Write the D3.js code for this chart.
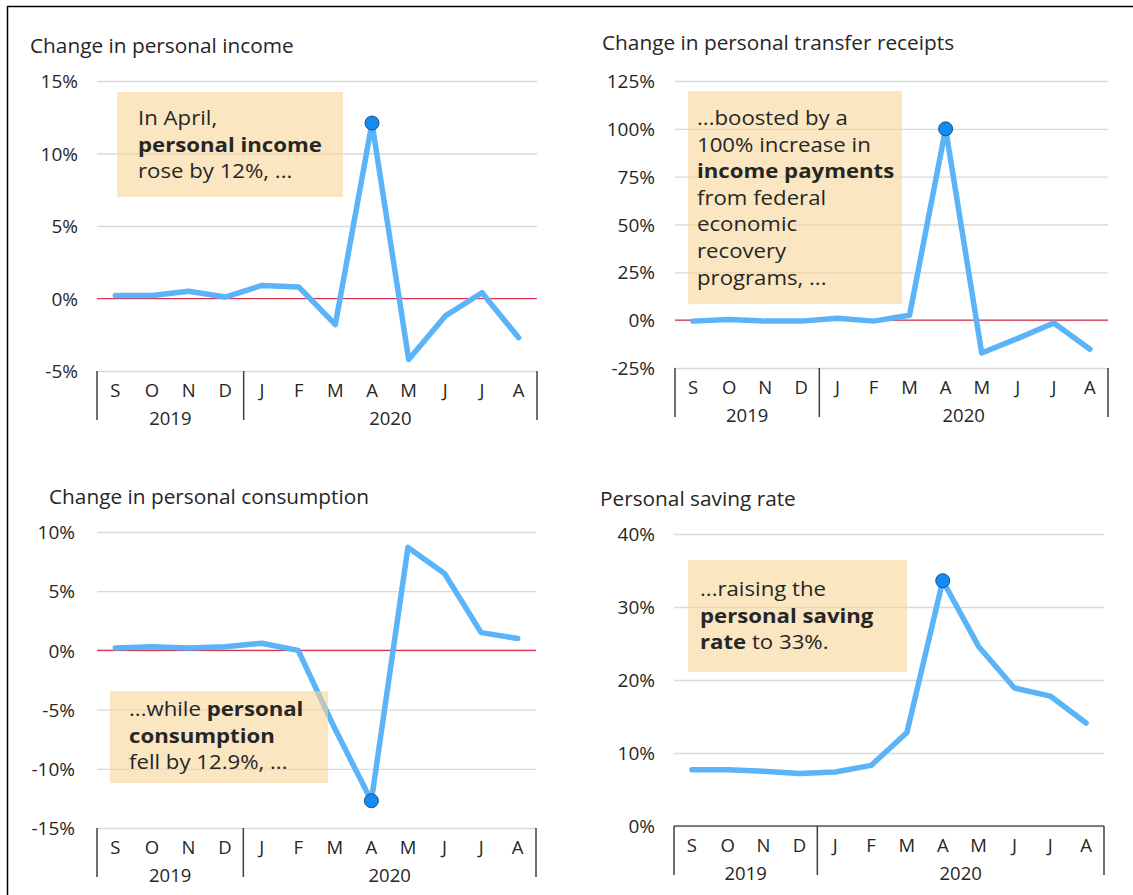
<!DOCTYPE html>
<html>
<head>
<meta charset="utf-8">
<script src="https://cdn.jsdelivr.net/npm/d3@7"></script>
<style>
  html, body { margin: 0; padding: 0; background: #ffffff; }
  svg { display: block; }
  text { font-family: "Open Sans", Lato, sans-serif; fill: #262626; }
</style>
</head>
<body>
<svg id="chart" width="1133" height="895"></svg>
<script>
// ---------- DATA ----------
const months = ["S","O","N","D","J","F","M","A","M","J","J","A"];
const yearLabels = ["2019","2020"];
const yearSpans = [4, 8];

const incomeChange      = [0.2, 0.2, 0.5, 0.1, 0.9, 0.8, -1.8, 12.1, -4.2, -1.2, 0.4, -2.7];
const transferChange    = [-0.5, 0.3, -0.5, -0.5, 1.0, -0.5, 2.6, 100, -17.2, -9.5, -1.5, -15.2];
const consumptionChange = [0.2, 0.3, 0.2, 0.3, 0.6, 0.0, -6.6, -12.7, 8.7, 6.5, 1.5, 1.0];
const savingRate        = [7.7, 7.7, 7.5, 7.2, 7.4, 8.3, 12.8, 33.6, 24.6, 18.9, 17.8, 14.1];

const incomeTicks      = [-5, 0, 5, 10, 15];
const transferTicks    = [-25, 0, 25, 50, 75, 100, 125];
const consumptionTicks = [-15, -10, -5, 0, 5, 10];
const savingTicks      = [0, 10, 20, 30, 40];

const titles = ["Change in personal income", "Change in personal transfer receipts",
                "Change in personal consumption", "Personal saving rate"];

// annotation text: each line is a list of [text, bold]
const notes = [
  [[["In April,", false]], [["personal income", true]], [["rose by 12%, ...", false]]],
  [[["...boosted by a", false]], [["100% increase in", false]], [["income payments", true]],
   [["from federal", false]], [["economic", false]], [["recovery", false]], [["programs, ...", false]]],
  [[["...while ", false], ["personal", true]], [["consumption", true]], [["fell by 12.9%, ...", false]]],
  [[["...raising the", false]], [["personal saving", true]], [["rate", true], [" to 33%.", false]]]
];
const highlightIndex = 7; // April 2020

// ---------- LAYOUT ----------
const panels = [
  { data: incomeChange, ticks: incomeTicks, title: titles[0], note: notes[0],
    x0: 97, x1: 537, yTop: 81, yBot: 371, labelX: 78, titleX: 30, titleY: 53,
    box: [117, 92, 226, 105], textX: 138, textY: 125, zeroLine: true, darkBase: false },
  { data: transferChange, ticks: transferTicks, title: titles[1], note: notes[1],
    x0: 675, x1: 1108, yTop: 81, yBot: 368, labelX: 655, titleX: 602, titleY: 50,
    box: [688, 91, 214, 213], textX: 697, textY: 125, zeroLine: true, darkBase: false },
  { data: consumptionChange, ticks: consumptionTicks, title: titles[2], note: notes[2],
    x0: 97, x1: 536, yTop: 532, yBot: 828, labelX: 75, titleX: 49, titleY: 504,
    box: [110, 691, 218, 92], textX: 129, textY: 716, zeroLine: true, darkBase: false },
  { data: savingRate, ticks: savingTicks, title: titles[3], note: notes[3],
    x0: 674, x1: 1104, yTop: 534, yBot: 826, labelX: 655, titleX: 600, titleY: 506,
    box: [688, 560, 219, 112], textX: 700, textY: 596, zeroLine: false, darkBase: true }
];

const svg = d3.select("#chart");

// outer frame (top and left edges visible)
svg.append("line").attr("x1", 7).attr("x2", 1133).attr("y1", 6.5).attr("y2", 6.5)
  .attr("stroke", "#000").attr("stroke-width", 1.5);
svg.append("line").attr("x1", 7.5).attr("x2", 7.5).attr("y1", 6).attr("y2", 895)
  .attr("stroke", "#000").attr("stroke-width", 1.5);

panels.forEach(p => {
  const g = svg.append("g");
  const x = d3.scaleBand().domain(d3.range(months.length)).range([p.x0, p.x1]).padding(0);
  const y = d3.scaleLinear().domain([d3.min(p.ticks), d3.max(p.ticks)]).range([p.yBot, p.yTop]);
  const cx = i => x(i) + x.bandwidth() / 2;

  // title
  g.append("text").attr("x", p.titleX).attr("y", p.titleY)
    .attr("font-size", 20.8).text(p.title);

  // gridlines
  const grid = g.append("g").attr("transform", `translate(${p.x0},0)`)
    .call(d3.axisRight(y).tickValues(p.ticks).tickSize(p.x1 - p.x0).tickFormat(""));
  grid.select(".domain").remove();
  grid.selectAll(".tick line").attr("stroke", "#d9d9d9").attr("stroke-width", 1.3);

  // y tick labels
  const yAx = g.append("g").attr("transform", `translate(${p.labelX},0)`)
    .call(d3.axisLeft(y).tickValues(p.ticks).tickSize(0).tickPadding(0).tickFormat(d => d + "%"));
  yAx.select(".domain").remove();
  yAx.selectAll("text").attr("font-size", 19).attr("font-family", "'Open Sans', sans-serif")
    .attr("fill", "#262626").attr("dy", "0.35em");

  // zero line
  if (p.zeroLine) {
    g.append("line").attr("x1", p.x0).attr("x2", p.x1).attr("y1", y(0)).attr("y2", y(0))
      .attr("stroke", "#d6304a").attr("stroke-width", 1.2);
  }
  if (p.darkBase) {
    g.append("line").attr("x1", p.x0).attr("x2", p.x1).attr("y1", y(0)).attr("y2", y(0))
      .attr("stroke", "#595959").attr("stroke-width", 1.5);
  }

  // category axis: month labels
  const xAx = g.append("g").attr("transform", `translate(0,${p.yBot})`)
    .call(d3.axisBottom(x).tickSize(0).tickPadding(0).tickFormat(i => months[i]));
  xAx.select(".domain").remove();
  xAx.selectAll("text").attr("font-size", 18.5).attr("font-family", "'Open Sans', sans-serif")
    .attr("fill", "#262626").attr("dy", "1.4em");

  // year separators and labels
  let start = 0;
  const seps = [0];
  yearSpans.forEach(n => { start += n; seps.push(start); });
  seps.forEach(s => {
    const sx = s < months.length ? x(s) : p.x1;
    g.append("line").attr("x1", sx).attr("x2", sx).attr("y1", p.yBot).attr("y2", p.yBot + 49)
      .attr("stroke", "#404040").attr("stroke-width", 1.5);
  });
  yearLabels.forEach((lab, k) => {
    const a = seps[k], b = seps[k + 1];
    const xa = x(a), xb = b < months.length ? x(b) : p.x1;
    g.append("text").attr("x", (xa + xb) / 2).attr("y", p.yBot + 54)
      .attr("text-anchor", "middle").attr("font-size", 18.5).text(lab);
  });

  // series line
  const line = d3.line().x((d, i) => cx(i)).y(d => y(d));
  g.append("path").datum(p.data).attr("d", line)
    .attr("fill", "none").attr("stroke", "#5bb3f8").attr("stroke-width", 5.5)
    .attr("stroke-linejoin", "round").attr("stroke-linecap", "round");

  // annotation box
  g.append("rect").attr("x", p.box[0]).attr("y", p.box[1]).attr("width", p.box[2]).attr("height", p.box[3])
    .attr("fill", "#f6d698").attr("fill-opacity", 0.6);

  // highlight dot
  g.append("circle").attr("cx", cx(highlightIndex)).attr("cy", y(p.data[highlightIndex]))
    .attr("r", 7).attr("fill", "#118cf3").attr("stroke", "#1d4f86").attr("stroke-width", 1);

  // annotation text: one text element, one tspan row per line (slightly widened glyphs)
  const t = g.append("text")
    .attr("transform", `translate(${p.textX},${p.textY}) scale(1.15,1)`)
    .attr("x", 0).attr("y", 0)
    .attr("font-size", 19.3).attr("font-family", "'Open Sans', sans-serif")
    .attr("fill", "#1a1a1a");
  p.note.forEach((segs, li) => {
    segs.forEach(([s, b], si) => {
      const ts = t.append("tspan").attr("font-weight", b ? "bold" : "normal").text(s);
      if (si === 0) ts.attr("x", 0).attr("dy", li === 0 ? 0 : 26.6);
    });
  });
});
</script>
</body>
</html>
